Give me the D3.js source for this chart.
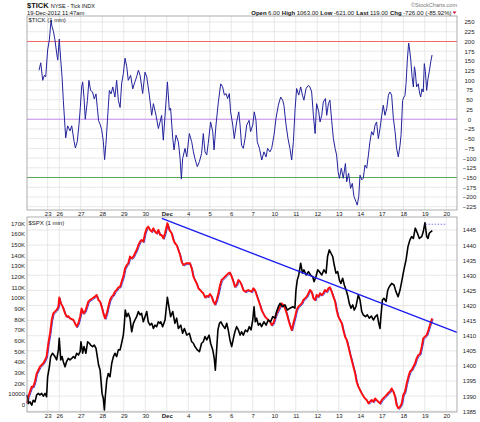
<!DOCTYPE html>
<html>
<head>
<meta charset="utf-8">
<script src="https://cdn.jsdelivr.net/npm/d3@7"></script>
<style>
  body { margin: 0; background: #fff; }
  svg { display: block; font-family: "Liberation Sans", Arial, sans-serif; }
</style>
</head>
<body>
<svg id="chart" width="480" height="422"></svg>
<script>
// session-day index: 0 = open of Nov 21, each full session = 1
const dayLabels = ["23", "26", "27", "28", "29", "30", "Dec", "4", "5", "6", "7", "10", "11", "12", "13", "14", "17", "18", "19", "20"];
const dayPos = [0.96, 1.5, 2.5, 3.5, 4.5, 5.5, 6.5, 7.5, 8.5, 9.5, 10.5, 11.5, 12.5, 13.5, 14.5, 15.5, 16.5, 17.5, 18.5, 19.5];

const tickTicks = [250, 225, 200, 175, 150, 125, 100, 75, 50, 25, 0, -25, -50, -75, -100, -125, -150, -175, -200, -225];
const tickLevels = [200, 0, -150];
const spxTicks = [1445, 1440, 1435, 1430, 1425, 1420, 1415, 1410, 1405, 1400, 1395, 1390, 1385];
const cumTicks = [170, 160, 150, 140, 130, 120, 110, 100, 90, 80, 70, 60, 50, 40, 30, 20, 10, 0];
const cumTickLabels = ["170K", "160K", "150K", "140K", "130K", "120K", "110K", "100K", "90K", "80K", "70K", "60K", "50K", "40K", "30K", "20K", "10000", "0"];

// $TICK (1 min)
const tick = [
  [0.56,126],[0.64,145],[0.73,100],[0.81,113],[0.87,109],[0.96,178],[1.04,204],[1.12,255],[1.16,239],[1.23,226],
  [1.30,204],[1.38,170],[1.43,152],[1.50,206],[1.57,152],[1.63,109],[1.69,48],[1.77,-22],[1.80,-48],[1.89,-17],
  [2.00,-30],[2.08,-17],[2.19,-57],[2.25,-74],[2.34,-57],[2.42,-13],[2.48,30],[2.54,83],[2.59,96],[2.65,57],
  [2.71,0],[2.81,48],[2.88,100],[2.96,74],[3.05,70],[3.13,52],[3.21,65],[3.27,30],[3.33,-4],[3.40,-13],
  [3.47,-26],[3.55,-57],[3.61,-104],[3.67,-65],[3.74,-4],[3.83,74],[3.91,65],[3.99,83],[4.09,57],[4.17,100],
  [4.25,48],[4.33,30],[4.40,91],[4.48,117],[4.56,157],[4.64,135],[4.71,100],[4.82,113],[4.92,78],[5.02,96],
  [5.10,109],[5.18,126],[5.26,113],[5.38,66],[5.49,121],[5.57,109],[5.69,62],[5.80,10],[5.88,40],[6.00,10],
  [6.11,-24],[6.19,-7],[6.26,10],[6.34,-54],[6.53,96],[6.62,23],[6.68,28],[6.78,-50],[6.84,-79],[6.93,-41],
  [7.04,-58],[7.12,-101],[7.18,-154],[7.24,-101],[7.35,-75],[7.43,-97],[7.55,-37],[7.66,-58],[7.74,-84],[7.81,-101],
  [7.92,-122],[8.02,-109],[8.12,-88],[8.20,-37],[8.28,-84],[8.36,-92],[8.43,-62],[8.54,-7],[8.64,-32],[8.70,-79],
  [8.79,-15],[8.90,44],[9.01,91],[9.10,83],[9.18,62],[9.26,66],[9.33,53],[9.41,66],[9.47,19],[9.57,-15],
  [9.64,-50],[9.75,-7],[9.85,19],[9.91,-15],[9.98,-67],[10.06,-75],[10.14,-50],[10.22,-15],[10.33,-3],[10.40,-32],
  [10.50,-15],[10.57,19],[10.65,-3],[10.71,-58],[10.81,-75],[10.92,-105],[11.02,-84],[11.12,-97],[11.19,-75],[11.30,-84],
  [11.38,-75],[11.49,-41],[11.58,2],[11.69,36],[11.80,57],[11.89,49],[11.95,36],[12.05,-15],[12.14,-50],[12.23,-75],
  [12.31,-105],[12.39,-58],[12.47,27],[12.54,79],[12.64,62],[12.73,83],[12.81,62],[12.88,49],[12.98,79],[13.09,87],
  [13.16,83],[13.24,70],[13.32,10],[13.40,-37],[13.47,40],[13.57,19],[13.63,-7],[13.71,10],[13.78,44],[13.88,53],
  [13.94,10],[14.02,40],[14.09,49],[14.17,-3],[14.25,-50],[14.33,-75],[14.40,-92],[14.47,-135],[14.53,-152],[14.62,-126],
  [14.71,-152],[14.81,-114],[14.87,-161],[14.96,-139],[15.05,-178],[15.13,-165],[15.21,-199],[15.30,-212],[15.36,-221],[15.43,-199],
  [15.49,-144],[15.57,-156],[15.64,-152],[15.72,-118],[15.80,-126],[15.88,-92],[15.95,-58],[16.03,-32],[16.11,-41],[16.19,-15],
  [16.26,-7],[16.34,-50],[16.42,-24],[16.50,10],[16.57,36],[16.65,10],[16.73,27],[16.81,62],[16.88,70],[16.96,62],
  [17.04,2],[17.12,-32],[17.19,-75],[17.27,-97],[17.35,-67],[17.40,-39],[17.47,48],[17.53,57],[17.58,61],[17.63,91],
  [17.69,152],[17.75,196],[17.78,187],[17.85,152],[17.91,109],[17.97,83],[18.02,135],[18.06,122],[18.12,83],[18.20,91],
  [18.25,70],[18.31,57],[18.37,78],[18.43,70],[18.48,143],[18.53,122],[18.59,74],[18.65,104],[18.71,122],[18.78,148],
  [18.84,165]
];

// $SPX (1 min), right axis
const spx = [
  [0.00,1390.4],[0.06,1387.6],[0.14,1388.1],[0.22,1387.0],[0.29,1388.6],[0.37,1388.1],[0.45,1390.4],[0.53,1390.9],[0.60,1390.4],[0.68,1390.9],
  [0.76,1390.0],[0.84,1390.9],[0.91,1389.8],[0.96,1396.4],[1.04,1399.7],[1.10,1403.1],[1.19,1404.2],[1.30,1403.1],[1.38,1402.0],[1.46,1405.3],
  [1.50,1409.1],[1.57,1402.0],[1.63,1403.1],[1.69,1401.4],[1.77,1399.7],[1.84,1401.4],[1.92,1402.5],[2.00,1402.0],[2.08,1402.5],[2.16,1403.1],
  [2.23,1402.5],[2.31,1404.2],[2.39,1403.6],[2.47,1404.7],[2.51,1408.0],[2.59,1404.2],[2.65,1406.4],[2.74,1404.2],[2.82,1408.0],[2.90,1407.5],
  [2.96,1406.9],[3.05,1406.4],[3.13,1406.9],[3.21,1405.8],[3.27,1403.1],[3.33,1400.3],[3.40,1398.6],[3.44,1395.3],[3.49,1390.9],[3.55,1389.2],
  [3.60,1385.4],[3.64,1389.8],[3.71,1395.3],[3.78,1397.5],[3.86,1396.4],[3.94,1400.8],[4.02,1403.1],[4.09,1404.2],[4.17,1403.1],[4.25,1405.3],
  [4.33,1405.3],[4.40,1407.5],[4.48,1410.2],[4.53,1414.1],[4.57,1418.5],[4.64,1416.3],[4.71,1417.4],[4.79,1415.8],[4.87,1411.3],[4.95,1414.1],
  [5.02,1415.2],[5.10,1416.3],[5.18,1418.0],[5.26,1416.9],[5.33,1417.4],[5.41,1414.6],[5.49,1416.3],[5.57,1418.0],[5.64,1414.6],[5.72,1413.5],
  [5.80,1414.1],[5.88,1412.4],[5.95,1413.5],[6.03,1413.0],[6.11,1414.6],[6.19,1414.1],[6.22,1414.6],[6.31,1413.0],[6.42,1415.2],[6.53,1422.7],
  [6.60,1419.6],[6.68,1416.3],[6.78,1418.0],[6.88,1414.1],[6.96,1415.8],[7.04,1412.4],[7.15,1413.5],[7.24,1410.8],[7.32,1412.4],[7.43,1410.2],
  [7.55,1410.8],[7.66,1408.0],[7.74,1407.5],[7.81,1406.4],[7.92,1405.3],[8.02,1404.7],[8.12,1407.5],[8.20,1408.0],[8.28,1409.7],[8.36,1408.6],
  [8.47,1410.2],[8.54,1407.5],[8.64,1405.3],[8.71,1402.5],[8.76,1398.6],[8.82,1405.3],[8.88,1411.9],[8.95,1414.1],[9.02,1414.6],[9.10,1413.5],
  [9.21,1412.4],[9.29,1414.1],[9.36,1411.9],[9.44,1408.6],[9.52,1406.4],[9.60,1409.1],[9.67,1411.3],[9.75,1413.0],[9.83,1411.9],[9.91,1410.2],
  [9.98,1411.3],[10.06,1410.2],[10.16,1411.9],[10.25,1411.3],[10.34,1413.0],[10.42,1411.9],[10.50,1415.2],[10.56,1419.6],[10.62,1414.6],[10.68,1415.8],
  [10.76,1413.5],[10.84,1414.1],[10.91,1413.0],[11.02,1414.6],[11.12,1413.5],[11.22,1415.2],[11.33,1414.6],[11.43,1416.3],[11.53,1415.8],[11.61,1418.0],
  [11.69,1419.6],[11.77,1420.7],[11.89,1419.6],[12.00,1420.2],[12.11,1418.5],[12.23,1419.1],[12.36,1419.6],[12.46,1419.1],[12.51,1425.1],[12.57,1428.4],
  [12.64,1430.1],[12.73,1434.0],[12.81,1430.7],[12.88,1431.8],[12.98,1430.1],[13.09,1431.2],[13.19,1430.1],[13.29,1429.5],[13.35,1427.9],[13.44,1429.5],
  [13.52,1431.8],[13.60,1431.2],[13.71,1430.1],[13.81,1431.8],[13.91,1430.7],[13.98,1436.2],[14.06,1438.4],[14.14,1437.3],[14.22,1436.2],[14.29,1433.4],
  [14.37,1430.7],[14.45,1431.2],[14.53,1428.4],[14.60,1427.3],[14.68,1429.0],[14.76,1426.8],[14.84,1425.1],[14.91,1423.5],[14.99,1420.7],[15.07,1419.1],
  [15.15,1420.2],[15.22,1418.5],[15.30,1419.6],[15.41,1423.5],[15.49,1421.8],[15.57,1418.0],[15.64,1416.9],[15.74,1416.3],[15.83,1416.9],[15.92,1415.8],
  [16.02,1416.5],[16.11,1415.2],[16.20,1416.3],[16.29,1416.9],[16.36,1414.1],[16.42,1412.4],[16.46,1416.3],[16.53,1421.8],[16.60,1422.4],[16.70,1421.3],
  [16.78,1425.1],[16.85,1426.2],[16.96,1427.3],[17.07,1426.8],[17.16,1424.6],[17.26,1422.9],[17.35,1425.1],[17.44,1428.4],[17.53,1431.8],[17.63,1435.1],
  [17.72,1439.5],[17.81,1441.7],[17.89,1442.8],[17.97,1442.2],[18.06,1445.6],[18.16,1443.9],[18.25,1442.2],[18.36,1442.8],[18.43,1444.4],[18.51,1447.4],
  [18.59,1442.8],[18.65,1442.2],[18.71,1443.9],[18.78,1444.4],[18.85,1444.8]
];

// cumulative $TICK, left axis (thousands)
const cumTick = [
  [0.00,1.3],[0.06,7.5],[0.14,12.2],[0.22,16.9],[0.29,16.9],[0.37,21.6],[0.45,29.4],[0.53,32.5],[0.60,35.6],[0.68,37.2],
  [0.76,38.8],[0.84,41.9],[0.91,45.0],[0.99,57.5],[1.07,66.9],[1.15,79.4],[1.22,85.6],[1.30,87.2],[1.38,88.8],[1.46,91.9],
  [1.50,100.6],[1.57,95.0],[1.66,91.9],[1.77,85.6],[1.84,82.5],[1.92,83.1],[2.00,80.9],[2.16,79.4],[2.23,76.3],[2.31,73.1],
  [2.39,76.3],[2.47,82.5],[2.54,90.3],[2.62,85.6],[2.70,87.2],[2.78,91.9],[2.85,96.6],[2.93,98.1],[3.05,99.7],[3.16,101.3],
  [3.24,102.8],[3.32,98.1],[3.40,96.6],[3.47,91.9],[3.55,85.6],[3.63,80.9],[3.71,85.6],[3.78,91.9],[3.86,98.1],[3.94,101.3],
  [4.02,102.8],[4.09,105.9],[4.17,107.5],[4.25,110.0],[4.33,110.6],[4.40,115.3],[4.48,120.0],[4.56,127.8],[4.64,130.9],[4.71,132.5],
  [4.79,138.8],[4.87,137.2],[4.95,138.8],[5.02,141.9],[5.10,145.0],[5.18,149.7],[5.26,152.8],[5.33,154.4],[5.41,152.8],[5.49,160.6],
  [5.57,165.3],[5.64,166.9],[5.72,163.8],[5.80,162.2],[5.88,165.3],[5.95,162.2],[6.03,160.6],[6.11,163.8],[6.19,159.1],[6.26,159.1],
  [6.34,155.9],[6.42,160.6],[6.53,170.0],[6.62,163.8],[6.73,160.6],[6.81,154.4],[6.88,151.3],[6.96,149.7],[7.04,145.0],[7.12,140.3],
  [7.19,134.1],[7.27,130.9],[7.40,132.5],[7.58,132.5],[7.66,127.8],[7.74,120.0],[7.81,116.9],[7.89,113.8],[7.97,109.1],[8.05,107.5],
  [8.12,105.9],[8.20,104.4],[8.28,100.6],[8.36,101.9],[8.43,101.3],[8.51,103.8],[8.59,101.3],[8.67,96.6],[8.74,94.1],[8.82,98.1],
  [8.90,104.4],[8.98,112.2],[9.05,116.9],[9.13,118.4],[9.21,120.0],[9.29,121.6],[9.36,123.1],[9.44,123.8],[9.52,120.0],[9.60,115.3],
  [9.67,110.6],[9.75,112.2],[9.83,116.9],[9.91,115.3],[9.98,112.2],[10.06,107.5],[10.14,105.9],[10.29,107.5],[10.45,105.9],[10.53,109.1],
  [10.60,107.5],[10.68,102.8],[10.76,98.1],[10.84,93.4],[10.91,88.8],[10.99,85.6],[11.07,82.5],[11.15,80.9],[11.22,79.4],[11.30,77.8],
  [11.38,74.7],[11.46,76.3],[11.53,80.9],[11.61,85.6],[11.69,88.8],[11.77,91.9],[11.84,95.0],[11.92,93.4],[12.00,90.3],[12.08,85.6],
  [12.16,79.4],[12.23,74.7],[12.31,70.0],[12.39,76.3],[12.47,82.5],[12.54,88.8],[12.62,91.9],[12.70,93.4],[12.78,95.0],[12.85,98.1],
  [12.93,99.7],[13.01,101.3],[13.09,104.4],[13.16,107.5],[13.24,105.9],[13.32,99.7],[13.40,98.1],[13.47,102.8],[13.55,101.3],[13.63,104.4],
  [13.71,102.8],[13.78,104.4],[13.86,107.5],[13.94,105.9],[14.02,109.1],[14.09,110.0],[14.17,105.9],[14.25,101.3],[14.33,96.6],[14.40,88.8],
  [14.48,82.5],[14.56,79.4],[14.64,76.3],[14.71,70.0],[14.79,63.8],[14.87,60.6],[14.95,54.4],[15.02,48.1],[15.10,41.9],[15.18,35.6],
  [15.26,29.4],[15.33,21.6],[15.41,16.9],[15.49,13.8],[15.57,10.6],[15.64,8.1],[15.72,5.9],[15.80,4.4],[15.88,1.3],[15.95,2.8],
  [16.03,4.4],[16.11,2.8],[16.19,5.9],[16.26,4.4],[16.34,2.8],[16.42,1.3],[16.50,4.4],[16.57,5.9],[16.65,7.5],[16.73,9.1],
  [16.81,11.3],[16.88,12.2],[16.96,15.3],[17.04,12.2],[17.12,7.5],[17.19,-0.3],[17.27,-3.4],[17.35,-1.9],[17.43,1.3],[17.50,9.1],
  [17.58,12.2],[17.66,20.0],[17.74,26.3],[17.81,30.9],[17.89,32.5],[17.97,35.6],[18.05,38.8],[18.12,43.4],[18.20,46.6],[18.28,47.5],
  [18.36,54.4],[18.43,62.2],[18.51,63.8],[18.59,65.3],[18.67,70.0],[18.74,74.7],[18.82,79.4],[18.85,80.9]
];

// trend line on the cumulative tick (left axis) and the $SPX high marker (right axis)
const trendLine = [[6.27, 174.7], [20.0, 67.8]];
const spxHighLine = [[18.54, 1446.9], [19.52, 1446.9]];

const svg = d3.select("#chart");
const left = 27, right = 457;

const x = d3.scaleLinear().domain([0, 20]).range([left, right]);
const yTick = d3.scaleLinear().domain([-233.5, 265.4]).range([210, 16]);
const ySpx = d3.scaleLinear().domain([1384.74, 1449.3]).range([412, 217]);
const yCum = d3.scaleLinear().domain([-6.84, 175.9]).range([412, 217]);

const gridColor = "#e2e2e2";

// ---------- top panel: $TICK ----------
const topPanel = svg.append("g");

topPanel.append("g")
  .selectAll("line")
  .data(tickTicks)
  .join("line")
  .attr("x1", left).attr("x2", right)
  .attr("y1", (d) => yTick(d)).attr("y2", (d) => yTick(d))
  .attr("stroke", gridColor).attr("stroke-width", 0.8);

topPanel.append("g")
  .selectAll("line")
  .data(dayPos)
  .join("line")
  .attr("x1", (d) => x(d)).attr("x2", (d) => x(d))
  .attr("y1", 16).attr("y2", 210)
  .attr("stroke", gridColor).attr("stroke-width", 0.8);

const levelColors = ["#f06a6a", "#c890f4", "#5ca85c"];
topPanel.append("g")
  .selectAll("line")
  .data(tickLevels)
  .join("line")
  .attr("x1", left).attr("x2", right)
  .attr("y1", (d) => yTick(d)).attr("y2", (d) => yTick(d))
  .attr("stroke", (d, i) => levelColors[i]).attr("stroke-width", 1.1);

topPanel.append("path")
  .datum(tick)
  .attr("fill", "none")
  .attr("stroke", "#23239c")
  .attr("stroke-width", 1)
  .attr("stroke-linejoin", "round")
  .attr("d", d3.line().x((d) => x(d[0])).y((d) => yTick(d[1])));

topPanel.append("rect")
  .attr("x", left).attr("y", 16).attr("width", right - left).attr("height", 194)
  .attr("fill", "none").attr("stroke", "#9a9a9a").attr("stroke-width", 0.8);

// ---------- bottom panel: $SPX ----------
const botPanel = svg.append("g");

botPanel.append("g")
  .selectAll("line")
  .data(spxTicks)
  .join("line")
  .attr("x1", left).attr("x2", right)
  .attr("y1", (d) => ySpx(d)).attr("y2", (d) => ySpx(d))
  .attr("stroke", gridColor).attr("stroke-width", 0.8);

botPanel.append("g")
  .selectAll("line")
  .data(dayPos)
  .join("line")
  .attr("x1", (d) => x(d)).attr("x2", (d) => x(d))
  .attr("y1", 217).attr("y2", 412)
  .attr("stroke", gridColor).attr("stroke-width", 0.8);

const cumLine = d3.line().x((d) => x(d[0])).y((d) => yCum(d[1]));

// thin blue companion line peeking out just below the red one
botPanel.append("path")
  .datum(cumTick)
  .attr("fill", "none")
  .attr("stroke", "#2a2ad8")
  .attr("stroke-width", 0.9)
  .attr("stroke-linejoin", "round")
  .attr("transform", "translate(0.9,1)")
  .attr("d", cumLine);

botPanel.append("path")
  .datum(cumTick)
  .attr("fill", "none")
  .attr("stroke", "#ff0d0d")
  .attr("stroke-width", 1.9)
  .attr("stroke-linejoin", "round")
  .attr("d", cumLine);

botPanel.append("path")
  .datum(spx)
  .attr("fill", "none")
  .attr("stroke", "#000")
  .attr("stroke-width", 1.6)
  .attr("stroke-linejoin", "round")
  .attr("d", d3.line().x((d) => x(d[0])).y((d) => ySpx(d[1])));

botPanel.append("path")
  .datum(trendLine)
  .attr("fill", "none")
  .attr("stroke", "#1c1cf0")
  .attr("stroke-width", 1.4)
  .attr("d", cumLine);

botPanel.append("path")
  .datum(spxHighLine)
  .attr("fill", "none")
  .attr("stroke", "#7a7af0")
  .attr("stroke-width", 1)
  .attr("stroke-dasharray", "1.5,1.5")
  .attr("d", d3.line().x((d) => x(d[0])).y((d) => ySpx(d[1])));

botPanel.append("rect")
  .attr("x", left).attr("y", 217).attr("width", right - left).attr("height", 195)
  .attr("fill", "none").attr("stroke", "#9a9a9a").attr("stroke-width", 0.8);

// ---------- axes ----------
const styleAxis = (g, anchor) => {
  g.select(".domain").remove();
  g.selectAll("text")
    .attr("font-size", 6)
    .attr("fill", "#222")
    .attr("font-family", "'Liberation Sans', Arial, sans-serif")
    .attr("text-anchor", anchor);
};

svg.append("g")
  .attr("transform", "translate(469.5,0)")
  .call(d3.axisRight(yTick).tickValues(tickTicks).tickSize(0).tickPadding(0).tickFormat(d3.format("d")))
  .call((g) => styleAxis(g, "middle"));

svg.append("g")
  .attr("transform", "translate(469.5,0)")
  .call(d3.axisRight(ySpx).tickValues(spxTicks).tickSize(0).tickPadding(0).tickFormat(d3.format("d")))
  .call((g) => styleAxis(g, "middle"));

svg.append("g")
  .attr("transform", "translate(25,0)")
  .call(d3.axisLeft(yCum).tickValues(cumTicks).tickSize(0).tickPadding(0)
    .tickFormat((d, i) => cumTickLabels[i]))
  .call((g) => styleAxis(g, "end"));

[210, 412].forEach((yb) => {
  svg.append("g")
    .attr("transform", `translate(0,${yb})`)
    .call(d3.axisBottom(x).tickValues(dayPos).tickSize(0).tickPadding(2)
      .tickFormat((d, i) => dayLabels[i]))
    .call((g) => styleAxis(g, "middle"))
    .call((g) => g.selectAll("text").filter((d, i) => dayLabels[i] === "Dec").attr("font-weight", "bold"));
});

// ---------- header text ----------
const header = svg.append("g").attr("fill", "#111");

const title = header.append("text").attr("x", 27).attr("y", 8);
title.append("tspan").attr("font-size", 7.5).attr("font-weight", "bold").text("$TICK");
title.append("tspan").attr("font-size", 5.5).attr("dx", 2).text("NYSE - Tick INDX");

header.append("text").attr("x", 27).attr("y", 14.5).attr("font-size", 5.8).text("19-Dec-2012 11:47am");

header.append("text").attr("x", 457).attr("y", 7).attr("font-size", 5.5)
  .attr("text-anchor", "end").attr("fill", "#777").text("\u00a9StockCharts.com");

const quote = [["Open", "6.00"], ["High", "1063.00"], ["Low", "-621.00"], ["Last", "119.00"], ["Chg", "-726.00 (-85.92%)"]];
const qt = header.append("text").attr("x", 451.5).attr("y", 14.5).attr("font-size", 6).attr("text-anchor", "end");
quote.forEach((q, i) => {
  qt.append("tspan").attr("font-weight", "bold").attr("dx", i ? 2 : 0).text(q[0]);
  qt.append("tspan").attr("dx", 1.5).text(q[1]);
});
header.append("path").attr("d", "M452.5,11.5 L456.5,11.5 L454.5,14 Z").attr("fill", "#d0103a");

svg.append("text").attr("x", 28.5).attr("y", 21.8).attr("font-size", 6).attr("fill", "#222").text("$TICK (1 min)");
svg.append("text").attr("x", 28.5).attr("y", 224.5).attr("font-size", 6).attr("fill", "#222").text("$SPX (1 min)");
</script>
</body>
</html>
